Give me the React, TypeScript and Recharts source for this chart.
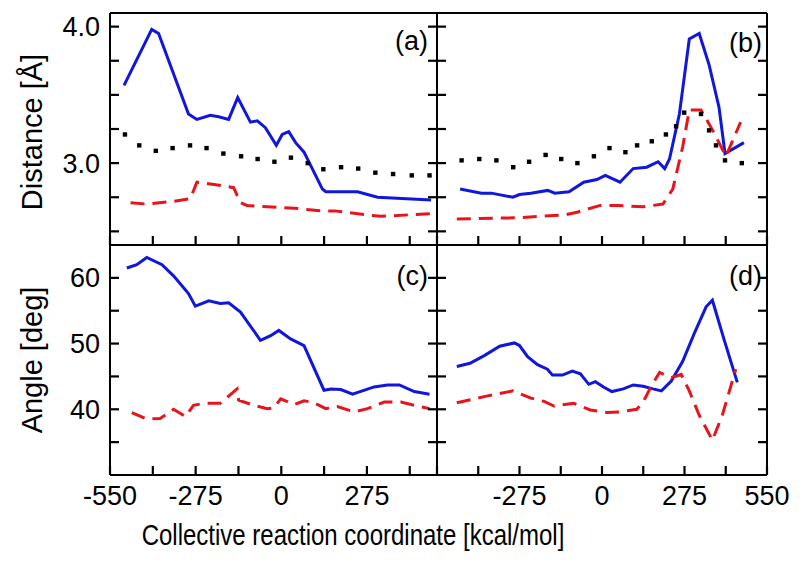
import React from 'react';
import { LineChart, Line, XAxis, YAxis, Customized } from 'recharts';

const FONT = '"Liberation Sans", Arial, Helvetica, sans-serif';
const BLUE = '#1016dc';
const RED = '#e8141c';

// axis ticks
const xTicksLeft = [-550, -412.5, -275, -137.5, 0, 137.5, 275, 412.5];
const xTicksRight = [-550, -412.5, -275, -137.5, 0, 137.5, 275, 412.5, 550];
const distTicks = [2.5, 2.75, 3.0, 3.25, 3.5, 3.75, 4.0];
const angleTicks = [35, 40, 45, 50, 55, 60];

// (a) distances
const aBlueX = [-505, -416, -394, -298, -271, -228, -201, -169, -140, -99, -77, -51, -16, 3, 24, 46, 73, 132, 143, 245, 309, 481];
const aBlueY = [3.57, 3.98, 3.95, 3.36, 3.32, 3.35, 3.34, 3.32, 3.48, 3.3, 3.31, 3.26, 3.13, 3.21, 3.23, 3.15, 3.08, 2.81, 2.79, 2.79, 2.75, 2.73];
const aDotX = [-502, -456, -403, -349, -293, -240, -186, -129, -76, -22, 31, 85, 135, 192, 247, 302, 359, 419, 476];
const aDotY = [3.21, 3.13, 3.09, 3.11, 3.13, 3.11, 3.07, 3.05, 3.03, 3.01, 3.04, 3.0, 2.955, 2.97, 2.96, 2.93, 2.92, 2.91, 2.91];
const aRedX = [-484, -432, -346, -292, -271, -174, -153, -131, -110, -45, 41, 127, 170, 277, 320, 481];
const aRedY = [2.71, 2.7, 2.72, 2.74, 2.86, 2.83, 2.82, 2.71, 2.69, 2.68, 2.67, 2.65, 2.65, 2.62, 2.61, 2.63];

// (b) distances
const bBlueX = [-473, -402, -369, -297, -275, -237, -181, -157, -110, -61, -17, 11, 60, 104, 149, 187, 209, 225, 258, 291, 324, 357, 390, 410, 473];
const bBlueY = [2.81, 2.78, 2.78, 2.75, 2.77, 2.78, 2.8, 2.78, 2.79, 2.86, 2.88, 2.91, 2.86, 2.96, 2.97, 3.01, 2.96, 3.03, 3.36, 3.91, 3.95, 3.72, 3.41, 3.07, 3.15];
const bDotX = [-468, -409, -352, -296, -243, -188, -136, -82, -27, 25, 78, 117, 166, 213, 247, 274, 330, 357, 380, 410, 466];
const bDotY = [3.02, 3.03, 3.02, 2.97, 3.01, 3.06, 3.03, 3.0, 3.05, 3.11, 3.08, 3.13, 3.16, 3.21, 3.27, 3.37, 3.36, 3.24, 3.13, 3.02, 3.0];
const bRedX = [-484, -281, -127, -83, -6, 50, 137, 203, 236, 269, 291, 330, 369, 413, 462];
const bRedY = [2.59, 2.6, 2.62, 2.64, 2.69, 2.69, 2.68, 2.7, 2.81, 3.12, 3.39, 3.39, 3.24, 3.05, 3.3];

// (c) angles
const cBlueX = [-496, -464, -432, -383, -346, -298, -276, -233, -196, -169, -131, -67, -34, -8, 30, 73, 137, 159, 191, 229, 298, 341, 379, 427, 476];
const cBlueY = [61.5, 62.0, 63.1, 62.0, 60.3, 57.6, 55.7, 56.5, 56.1, 56.2, 54.8, 50.5, 51.2, 52.0, 50.7, 49.7, 42.9, 43.1, 43.0, 42.3, 43.4, 43.7, 43.7, 42.7, 42.3];
const cRedX = [-480, -432, -389, -346, -308, -282, -249, -196, -169, -142, -137, -88, -45, -24, -2, 41, 73, 105, 143, 180, 234, 277, 331, 384, 427, 476];
const cRedY = [39.5, 38.5, 38.6, 40.0, 38.9, 40.6, 40.9, 40.9, 42.0, 43.1, 41.4, 40.6, 40.1, 40.2, 41.6, 40.7, 41.3, 41.0, 40.1, 40.4, 39.6, 40.1, 41.1, 41.1, 40.6, 40.1];

// (d) angles
const dBlueX = [-484, -440, -391, -341, -292, -275, -248, -215, -182, -165, -132, -99, -72, -44, -22, 5, 33, 71, 104, 137, 170, 198, 231, 269, 308, 347, 368, 407, 451];
const dBlueY = [46.5, 47.0, 48.2, 49.6, 50.1, 49.7, 48.0, 46.8, 46.1, 45.2, 45.2, 45.8, 45.4, 43.8, 44.2, 43.4, 42.7, 43.1, 43.7, 43.5, 43.1, 42.8, 44.3, 47.3, 51.6, 55.6, 56.6, 50.6, 44.1];
const dRedX = [-484, -385, -297, -237, -193, -160, -94, -39, 17, 60, 116, 137, 165, 192, 231, 264, 291, 324, 368, 401, 446];
const dRedY = [41.0, 42.0, 42.8, 41.7, 41.2, 40.5, 40.9, 39.9, 39.5, 39.6, 40.0, 41.1, 43.6, 45.6, 44.8, 45.3, 42.8, 39.1, 35.3, 39.1, 46.1];

const zip = (xs: number[], ys: number[]) => xs.map((x, i) => ({ x, y: ys[i] }));

type Series = { kind: 'solid' | 'dash' | 'dot'; data: { x: number; y: number }[] };

const axisLine = { stroke: '#000', strokeWidth: 2 };
const TL = 9; // tick length in px, drawn inward

// outside tick label plus inward tick mark; tickSize/tickMargin are 0 so x,y sit on the axis line
const Tick = (props: any) => {
  const { x, y, payload, side, fmt } = props;
  const label: string = fmt(payload.value);
  const X = Number(x);
  const Y = Number(y);
  let d = '';
  if (side === 'bottom') d = `M${X},${Y}L${X},${Y - TL}`;
  else if (side === 'top') d = `M${X},${Y}L${X},${Y + TL}`;
  else if (side === 'left') d = `M${X},${Y}L${X + TL},${Y}`;
  else d = `M${X},${Y}L${X - TL},${Y}`;
  return (
    <g>
      <path d={d} stroke="#000" strokeWidth={2.2} fill="none" />
      {label !== '' && side === 'bottom' && (
        <text x={X} y={Y + 30} textAnchor="middle" fontSize={27} fontFamily={FONT} fill="#000">
          {label}
        </text>
      )}
      {label !== '' && side === 'left' && (
        <text x={X - 10} y={Y + 9.5} textAnchor="end" fontSize={27} fontFamily={FONT} fill="#000">
          {label}
        </text>
      )}
    </g>
  );
};

const SquareDot = (p: any) => (
  <rect key={`d${p.index}`} x={p.cx - 2.2} y={p.cy - 2.2} width={4.4} height={4.4} fill="#000" />
);

interface PanelProps {
  width: number;
  height: number;
  margin: { top: number; right: number; bottom: number; left: number };
  xDomain: [number, number];
  xTicks: number[];
  xFmt: (v: number) => string;
  xHeight: number;
  yDomain: [number, number];
  yTicks: number[];
  yFmt: (v: number) => string;
  yWidth: number;
  tag: string;
  tagX: number;
  tagY: number;
  series: Series[];
  extra?: React.ReactNode;
}

const none = () => '';

// every panel is a full-size chart; its margins place the plot box
const Panel: React.FC<PanelProps> = (p) => (
  <div style={{ position: 'absolute', left: 0, top: 0 }}>
    <LineChart width={p.width} height={p.height} margin={p.margin}>
      <XAxis
        xAxisId="b"
        type="number"
        dataKey="x"
        domain={p.xDomain}
        allowDataOverflow
        ticks={p.xTicks}
        interval={0}
        height={p.xHeight}
        tickSize={0}
        tickMargin={0}
        tick={<Tick side="bottom" fmt={p.xFmt} />}
        axisLine={axisLine}
        tickLine={false}
      />
      <XAxis
        xAxisId="t"
        orientation="top"
        type="number"
        domain={p.xDomain}
        allowDataOverflow
        ticks={p.xTicks}
        interval={0}
        height={1}
        tickSize={0}
        tickMargin={0}
        tick={<Tick side="top" fmt={none} />}
        axisLine={axisLine}
        tickLine={false}
      />
      <YAxis
        yAxisId="l"
        type="number"
        domain={p.yDomain}
        allowDataOverflow
        ticks={p.yTicks}
        interval={0}
        width={p.yWidth}
        tickSize={0}
        tickMargin={0}
        tick={<Tick side="left" fmt={p.yFmt} />}
        axisLine={axisLine}
        tickLine={false}
      />
      <YAxis
        yAxisId="r"
        orientation="right"
        type="number"
        domain={p.yDomain}
        allowDataOverflow
        ticks={p.yTicks}
        interval={0}
        width={1}
        tickSize={0}
        tickMargin={0}
        tick={<Tick side="right" fmt={none} />}
        axisLine={axisLine}
        tickLine={false}
      />
      {p.series.map((s, i) =>
        s.kind === 'dot' ? (
          <Line
            key={i}
            xAxisId="b"
            yAxisId="l"
            data={s.data}
            dataKey="y"
            type="linear"
            stroke="none"
            dot={SquareDot}
            activeDot={false}
            isAnimationActive={false}
          />
        ) : (
          <Line
            key={i}
            xAxisId="b"
            yAxisId="l"
            data={s.data}
            dataKey="y"
            type="linear"
            stroke={s.kind === 'solid' ? BLUE : RED}
            strokeWidth={3}
            strokeDasharray={s.kind === 'dash' ? '14 8' : undefined}
            dot={false}
            activeDot={false}
            isAnimationActive={false}
          />
        )
      )}
      <Customized
        component={() => (
          <g>
            <text x={p.tagX} y={p.tagY} textAnchor="end" fontSize={27} fontFamily={FONT} fill="#000">
              {p.tag}
            </text>
            {p.extra}
          </g>
        )}
      />
    </LineChart>
  </div>
);

const fmtLeftX = (v: number) => (v % 275 === 0 ? String(v) : '');
const fmtRightX = (v: number) => (v % 275 === 0 && v !== -550 ? String(v) : '');
const fmtDist = (v: number) => (v === 3 || v === 4 ? v.toFixed(1) : '');
const fmtAngle = (v: number) => (v % 10 === 0 ? String(v) : '');

const titles = (
  <g>
    <text transform="translate(42,132) rotate(-90)" textAnchor="middle" fontSize={29} fontFamily={FONT} fill="#000">
      Distance [Å]
    </text>
    <text transform="translate(42,360) rotate(-90)" textAnchor="middle" fontSize={29} fontFamily={FONT} fill="#000">
      Angle [deg]
    </text>
    <text transform="translate(353,545) scale(1,1.25)" textAnchor="middle" fontSize={24} fontFamily={FONT} fill="#000">
      Collective reaction coordinate [kcal/mol]
    </text>
  </g>
);

export default function App() {
  // plot boxes: left column x 110..437, right column x 437..767; top row y 13..245, bottom row y 245..475
  return (
    <div style={{ position: 'absolute', left: 0, top: 0, width: 800, height: 567, background: '#fff' }}>
      <Panel
        width={800}
        height={567}
        margin={{ top: 12, right: 362, bottom: 321, left: 0 }}
        xDomain={[-550, 500]}
        xTicks={xTicksLeft}
        xFmt={none}
        xHeight={1}
        yDomain={[2.4, 4.1]}
        yTicks={distTicks}
        yFmt={fmtDist}
        yWidth={110}
        tag="(a)"
        tagX={428}
        tagY={50}
        series={[
          { kind: 'solid', data: zip(aBlueX, aBlueY) },
          { kind: 'dot', data: zip(aDotX, aDotY) },
          { kind: 'dash', data: zip(aRedX, aRedY) },
        ]}
        extra={titles}
      />
      <Panel
        width={800}
        height={567}
        margin={{ top: 12, right: 32, bottom: 321, left: 436 }}
        xDomain={[-550, 550]}
        xTicks={xTicksRight}
        xFmt={none}
        xHeight={1}
        yDomain={[2.4, 4.1]}
        yTicks={distTicks}
        yFmt={none}
        yWidth={1}
        tag="(b)"
        tagX={762}
        tagY={52}
        series={[
          { kind: 'solid', data: zip(bBlueX, bBlueY) },
          { kind: 'dot', data: zip(bDotX, bDotY) },
          { kind: 'dash', data: zip(bRedX, bRedY) },
        ]}
      />
      <Panel
        width={800}
        height={567}
        margin={{ top: 244, right: 362, bottom: 52, left: 0 }}
        xDomain={[-550, 500]}
        xTicks={xTicksLeft}
        xFmt={fmtLeftX}
        xHeight={40}
        yDomain={[30, 65]}
        yTicks={angleTicks}
        yFmt={fmtAngle}
        yWidth={110}
        tag="(c)"
        tagX={428}
        tagY={285}
        series={[
          { kind: 'solid', data: zip(cBlueX, cBlueY) },
          { kind: 'dash', data: zip(cRedX, cRedY) },
        ]}
      />
      <Panel
        width={800}
        height={567}
        margin={{ top: 244, right: 32, bottom: 52, left: 436 }}
        xDomain={[-550, 550]}
        xTicks={xTicksRight}
        xFmt={fmtRightX}
        xHeight={40}
        yDomain={[30, 65]}
        yTicks={angleTicks}
        yFmt={none}
        yWidth={1}
        tag="(d)"
        tagX={762}
        tagY={285}
        series={[
          { kind: 'solid', data: zip(dBlueX, dBlueY) },
          { kind: 'dash', data: zip(dRedX, dRedY) },
        ]}
      />
    </div>
  );
}
